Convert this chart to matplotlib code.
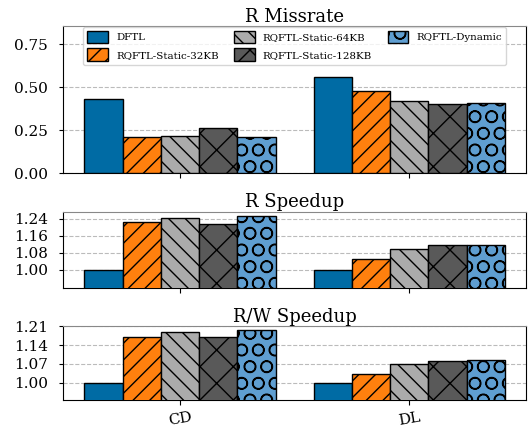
import matplotlib
matplotlib.use("Agg")
import matplotlib.pyplot as plt
import numpy as np

plt.rcParams['font.family'] = 'DejaVu Serif'
plt.rcParams['hatch.linewidth'] = 1.0

workloads = ['CD', 'DL']
schemes = ['DFTL', 'RQFTL-Static-32KB', 'RQFTL-Static-64KB',
           'RQFTL-Static-128KB', 'RQFTL-Dynamic']
colors = ['#006ba4', '#ff800e', '#ababab', '#595959', '#5f9ed1']
hatches = ['', '//', '\\\\', 'x', 'O']

# rows: scheme, cols: workload
r_missrate = [[0.434, 0.561],
              [0.211, 0.478],
              [0.217, 0.420],
              [0.263, 0.404],
              [0.211, 0.406]]
r_speedup = [[1.000, 1.000],
             [1.224, 1.049],
             [1.245, 1.100],
             [1.215, 1.116],
             [1.254, 1.119]]
rw_speedup = [[1.000, 1.000],
              [1.172, 1.034],
              [1.190, 1.068],
              [1.169, 1.082],
              [1.195, 1.083]]

panels = [('R Missrate', r_missrate, (0, 0.858), [0.0, 0.25, 0.5, 0.75]),
          ('R Speedup', r_speedup, (0.915, 1.274), [1.00, 1.08, 1.16, 1.24]),
          ('R/W Speedup', rw_speedup, (0.9345, 1.21), [1.00, 1.07, 1.14, 1.21])]

fig, axes = plt.subplots(3, 1, figsize=(5.32, 4.28), dpi=100, sharex=True,
                         gridspec_kw={'height_ratios': [147.6, 76.3, 74]})
fig.subplots_adjust(left=0.119, right=0.9887, top=0.94, bottom=0.0647, hspace=0.387)

x = np.arange(len(workloads))
w = 1 / 6
for ax, (title, data, ylim, yticks) in zip(axes, panels):
    for i, name in enumerate(schemes):
        ax.bar(x + (i - 2) * w, data[i], w, color=colors[i], hatch=hatches[i],
               edgecolor='black', linewidth=1.0, label=name, zorder=3)
    ax.set_title(title, fontsize=13, pad=3)
    ax.set_ylim(*ylim)
    ax.set_yticks(yticks)
    ax.set_yticklabels(['%.2f' % t for t in yticks], fontsize=11)
    ax.yaxis.grid(True, linestyle='--', color='#bbbbbb', linewidth=0.8, zorder=0)
    ax.set_axisbelow(True)
    ax.spines['top'].set_color('#888888')
    ax.tick_params(axis='y', length=3, pad=8)

axes[-1].set_xticks(x)
axes[-1].set_xticklabels(workloads, rotation=10, fontsize=11)
axes[0].legend(ncol=3, loc='upper center', fontsize=7.4, bbox_to_anchor=(0.5, 1.0),
               handlelength=2.0, handleheight=1.5, columnspacing=1.5,
               borderaxespad=0.1, framealpha=0.8)

fig.savefig('out.png', dpi=100)
